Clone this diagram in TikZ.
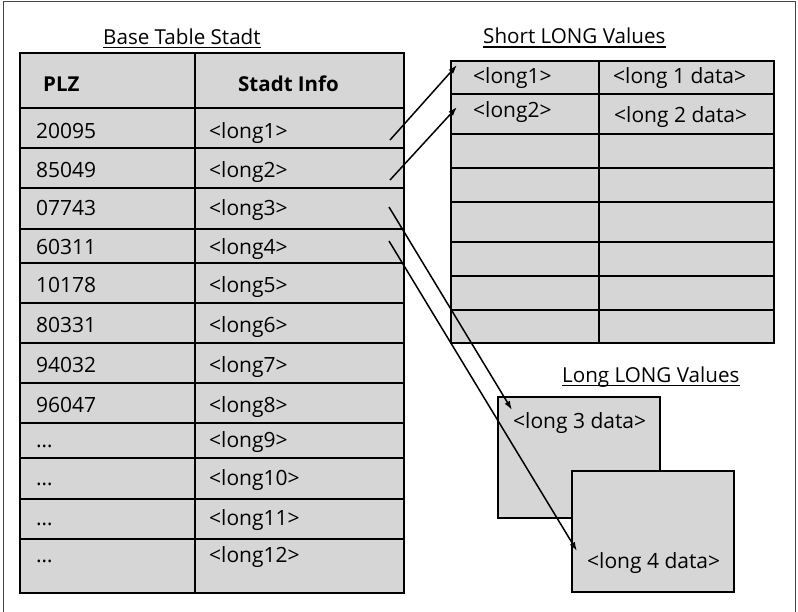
\documentclass[tikz,border=0pt]{standalone}
\usepackage{fontspec}
\setmainfont{Open Sans}
\usetikzlibrary{arrows.meta}
\definecolor{cellgray}{RGB}{214,214,214}
\definecolor{framegray}{RGB}{70,70,70}
\begin{document}
\begin{tikzpicture}[x=1pt,y=-1pt,
  cell/.style={draw=black, line width=2pt, fill=cellgray, inner sep=0pt, anchor=north west},
  ltxt/.style={anchor=base west, inner sep=0pt, font=\fontsize{21}{25}\selectfont},
  lhead/.style={anchor=base west, inner sep=0pt, font=\bfseries\fontsize{20.5}{25}\selectfont},
  rtxt/.style={anchor=base west, inner sep=0pt, font=\fontsize{21}{25}\selectfont},
  ttl/.style={anchor=base west, inner sep=0pt, font=\fontsize{20.6}{25}\selectfont},
  uline/.style={line width=1.5pt},
  link/.style={line width=1.5pt, -{Latex[length=9pt,width=6pt]}},
]
\useasboundingbox (0,0) rectangle (798,611);

% outer frame
\draw[framegray, line width=1pt] (3,620) -- (3,1.5) -- (795,1.5) -- (795,620);

% titles
\node[ttl] (tbase) at (103,44) {Base Table Stadt};
\draw[uline] ([yshift=-3.5pt]tbase.base west) -- ([yshift=-3.5pt]tbase.base east);
\node[ttl] (tshort) at (483,43) {Short LONG Values};
\draw[uline] ([yshift=-4pt]tshort.base west) -- ([yshift=-4pt]tshort.base east);

% base table: cells
\foreach [count=\i] \ta/\tb in {52/107,107/147,147/187,187/228,228/262,262/302,302/342,342/382,382/422,422/457,457/498,498/538,538/592}{
  \node[cell, minimum width=175pt, minimum height={(\tb-\ta)*1pt}] (La\i) at (19,\ta) {};
  \node[cell, minimum width=209pt, minimum height={(\tb-\ta)*1pt}] (Lb\i) at (194,\ta) {};
}
\node[lhead] (hplz) at (43,91) {PLZ};
\node[lhead] (hinfo) at (238,91) {Stadt Info};
\foreach [count=\i] \pz/\lv/\bl in {20095/<long1>/138, 85049/<long2>/177, 07743/<long3>/215,
  60311/<long4>/254, 10178/<long5>/292, 80331/<long6>/332, 94032/<long7>/372,
  96047/<long8>/412, …/<long9>/447, …/<long10>/485, …/<long11>/525, …/<long12>/562}{
  \node[ltxt] (pz\i) at (36,\bl) {\pz};
  \node[ltxt] (lv\i) at (209,\bl) {\lv};
}

% short LONG values table
\foreach [count=\i] \ta/\tb in {60/93,93/133,133/167,167/201,201/241,241/275,275/309,309/342}{
  \node[cell, minimum width=148pt, minimum height={(\tb-\ta)*1pt}] (Sa\i) at (450,\ta) {};
  \node[cell, minimum width=175pt, minimum height={(\tb-\ta)*1pt}] (Sb\i) at (598,\ta) {};
}
\node[rtxt] (s1) at (473,83) {<long1>};
\node[rtxt] (d1) at (613,83) {<long 1 data>};
\node[rtxt] (s2) at (473,117) {<long2>};
\node[rtxt] (d2) at (614,122) {<long 2 data>};

% long LONG values
\node[ttl] (tlong) at (562,382) {Long LONG Values};
\draw[uline] ([yshift=-3.5pt]tlong.base west) -- ([yshift=-3.5pt]tlong.base east);
\node[cell, minimum width=162pt, minimum height=121pt] (D3) at (497,396) {};
\node[rtxt] (d3) at (513,428) {<long 3 data>};
\node[cell, minimum width=162pt, minimum height=121pt] (D4) at (571,470) {};
\node[rtxt] (d4) at (587,568) {<long 4 data>};

% links from the base table to the stored values
\coordinate (from1) at (390,140);
\coordinate (to1) at (457,65);
\coordinate (from2) at (390,180);
\coordinate (to2) at (457,107);
\coordinate (from3) at (389,207);
\coordinate (to3) at (512,410);
\coordinate (from4) at (389,241);
\coordinate (to4) at (577,551);
\draw[link] (from1) -- (to1);
\draw[link] (from2) -- (to2);
\draw[link] (from3) -- (to3);
\draw[link] (from4) -- (to4);
\end{tikzpicture}
\end{document}
